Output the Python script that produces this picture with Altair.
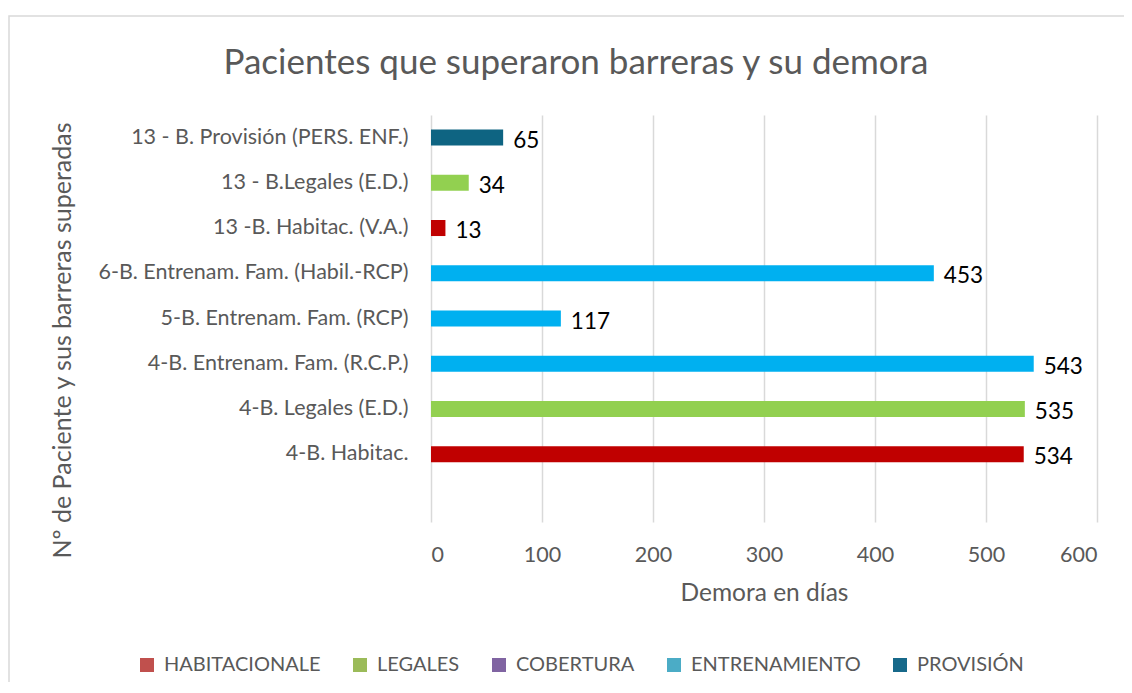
import altair as alt
import pandas as pd

categorias = [
    "13 - B. Provisión (PERS. ENF.)",
    "13 - B.Legales (E.D.)",
    "13 -B. Habitac. (V.A.)",
    "6-B. Entrenam. Fam. (Habil.-RCP)\u00a0",
    "5-B. Entrenam. Fam. (RCP)",
    "4-B. Entrenam. Fam. (R.C.P.)",
    "4-B. Legales (E.D.)",
    "4-B. Habitac.",
]
valores = [65, 34, 13, 453, 117, 543, 535, 534]
colores_barra = ["#0E6482", "#92D050", "#C00000", "#00B0F0", "#00B0F0", "#00B0F0", "#92D050", "#C00000"]

series = ["HABITACIONALE", "LEGALES", "COBERTURA", "ENTRENAMIENTO", "PROVISIÓN"]
colores_series = ["#C0504D", "#9BBB59", "#8064A2", "#4BACC6", "#17698A"]

dominio_y = categorias + ["\u00a0"]

FONT = "Lato"
GRIS = "#595959"

df = pd.DataFrame({"cat": categorias, "val": valores, "col": colores_barra})
df_leg = pd.DataFrame({"serie": series})
df_frame = pd.DataFrame({"k": [0]})

W, H = 666, 407

y_enc = alt.Y(
    "cat:N",
    scale=alt.Scale(domain=dominio_y, paddingInner=0.645, paddingOuter=0.32),
    axis=alt.Axis(
        title="Nº de Paciente y sus barreras superadas",
        titleFont=FONT, titleFontSize=25, titleFontWeight="normal", titleColor=GRIS,
        titleX=-369, titleY=225, titleAngle=270, titleAlign="center", titleBaseline="middle",
        labelFont=FONT, labelFontSize=21.5, labelColor=GRIS, labelPadding=23,
        ticks=False, domain=False, grid=False, labelLimit=400,
    ),
)

x_enc = alt.X(
    "val:Q",
    scale=alt.Scale(domain=[0, 600], nice=False),
    axis=alt.Axis(
        values=[0, 100, 200, 300, 400, 500, 600],
        title="Demora en días",
        titleFont=FONT, titleFontSize=24.5, titleFontWeight="normal", titleColor=GRIS, titlePadding=16,
        labelFont=FONT, labelFontSize=21.5, labelColor=GRIS, labelPadding=22,
        ticks=False, domain=False, grid=True, gridColor="#D9D9D9", gridWidth=1.5,
    ),
)

frame = alt.Chart(df_frame).mark_rect(fill=None, stroke="#D9D9D9", strokeWidth=1.5).encode(
    x=alt.value(-422), x2=alt.value(W + 40), y=alt.value(-99), y2=alt.value(H + 200)
)

bars = alt.Chart(df).mark_bar().encode(
    x=x_enc,
    y=y_enc,
    fill=alt.Fill("col:N", scale=None),
)

labels = alt.Chart(df).mark_text(
    align="left", baseline="middle", dx=10, dy=3, font=FONT, fontSize=22.5, color="#000000"
).encode(x="val:Q", y=alt.Y("cat:N", scale=alt.Scale(domain=dominio_y)), text="val:Q")

legend_layer = alt.Chart(df_leg).mark_square(opacity=0, size=0).encode(
    color=alt.Color(
        "serie:N",
        scale=alt.Scale(domain=series, range=colores_series),
        legend=alt.Legend(
            title=None, orient="none", direction="horizontal", columns=5,
            legendX=-294, legendY=540, symbolType="square", symbolSize=196,
            symbolOpacity=1, symbolStrokeWidth=0, symbolOffset=0,
            labelFont=FONT, labelFontSize=20, labelColor=GRIS, labelOffset=7,
            labelLimit=300, columnPadding=29, padding=0,
        ),
    )
)

chart = alt.layer(frame, bars, labels, legend_layer).properties(
    width=W,
    height=H,
    autosize=alt.AutoSizeParams(type="none"),
    padding={"left": 423, "top": 107, "right": 27, "bottom": 160},
    title=alt.TitleParams(
        "Pacientes que superaron barreras y su demora",
        font=FONT, fontSize=35, fontWeight="normal", color=GRIS,
        anchor="middle", frame="group", dx=-188, offset=0, dy=66,
    ),
).configure_view(stroke=None)

chart.save("out.html", embed_options={"renderer": "svg", "actions": False})
